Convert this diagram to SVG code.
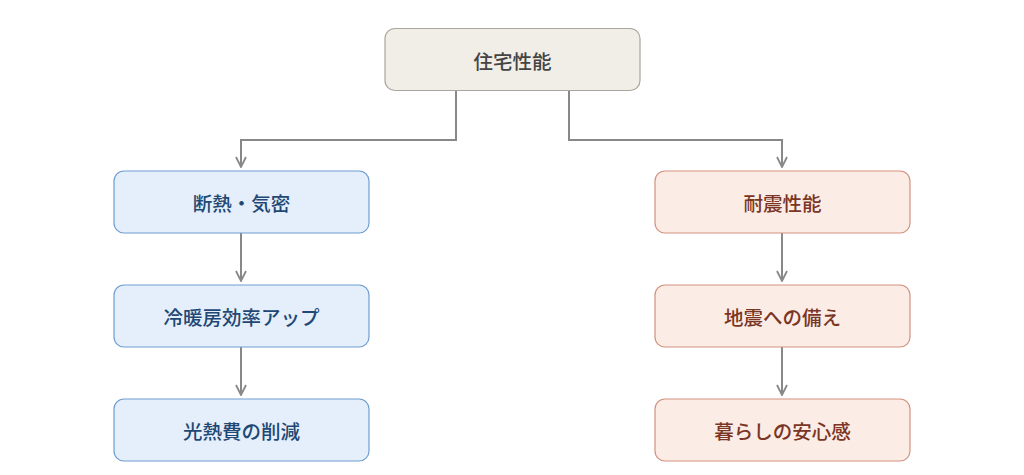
<svg xmlns="http://www.w3.org/2000/svg" width="1024" height="475" viewBox="0 0 1024 475">
<defs>
<marker id="arr" viewBox="0 0 12 12" refX="11" refY="6" markerWidth="12" markerHeight="12" markerUnits="userSpaceOnUse" orient="auto">
<path d="M1,1 L11,6 L1,11" fill="none" stroke="#888" stroke-width="1.8"/>
</marker>
<style>
text{font-family:"Noto Sans CJK JP","Noto Sans CJK SC",sans-serif;font-size:19.5px;font-weight:500;text-anchor:middle;dominant-baseline:central}
.root rect{fill:#f1eee8;stroke:#aaa69d;stroke-width:1.2}
.root text{fill:#444}
.l rect{fill:#e4effb;stroke:#6f9dd0;stroke-width:1.2}
.l text{fill:#1f4874}
.r rect{fill:#fbece6;stroke:#d3917e;stroke-width:1.2}
.r text{fill:#7a3524}
.c path{fill:none;stroke:#888;stroke-width:2;marker-end:url(#arr)}
</style>
</defs>
<rect width="1024" height="475" fill="#fff"/>
<g class="c" id="connectors">
<path d="M456,91 V140 H241 V167"/>
<path d="M569,91 V140 H782 V167"/>
<path d="M241,233 V281"/>
<path d="M241,347 V395"/>
<path d="M782,233 V281"/>
<path d="M782,347 V395"/>
</g>
<g id="root" class="root"><rect x="385" y="28.5" width="255" height="62" rx="10"/><text x="512.5" y="60">住宅性能</text></g>
<g id="n1" class="l"><rect x="114" y="171" width="255" height="62" rx="10"/><text x="241.5" y="202">断熱・気密</text></g>
<g id="n2" class="l"><rect x="114" y="285" width="255" height="62" rx="10"/><text x="241.5" y="316">冷暖房効率アップ</text></g>
<g id="n3" class="l"><rect x="114" y="399" width="255" height="62" rx="10"/><text x="241.5" y="430">光熱費の削減</text></g>
<g id="n4" class="r"><rect x="655" y="171" width="255" height="62" rx="10"/><text x="782.5" y="202">耐震性能</text></g>
<g id="n5" class="r"><rect x="655" y="285" width="255" height="62" rx="10"/><text x="782.5" y="316">地震への備え</text></g>
<g id="n6" class="r"><rect x="655" y="399" width="255" height="62" rx="10"/><text x="782.5" y="430">暮らしの安心感</text></g>
</svg>
